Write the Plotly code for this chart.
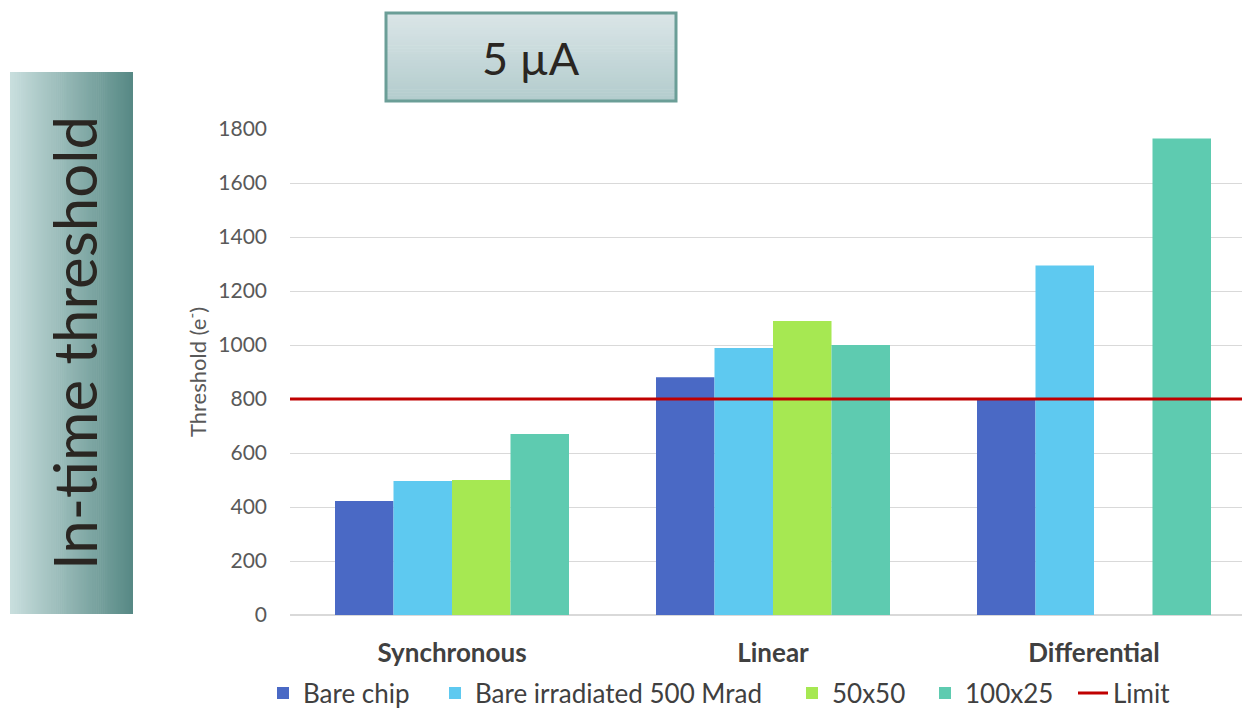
import plotly.graph_objects as go

categories = ["Synchronous", "Linear", "Differential"]
bare_chip = [422, 881, 797]
bare_irradiated = [496, 989, 1294]
pitch_50x50 = [500, 1089, None]
pitch_100x25 = [670, 1000, 1765]
limit = 800

series_names = ["Bare chip", "Bare irradiated 500 Mrad", "50x50", "100x25"]
series_colors = ["#4a69c5", "#5ec9f0", "#a6e852", "#5ecbb0"]
series_values = [bare_chip, bare_irradiated, pitch_50x50, pitch_100x25]
legend_ids = ["legend", "legend2", "legend3", "legend4", "legend5"]

fig = go.Figure()
for name, color, vals, lg in zip(series_names, series_colors, series_values, legend_ids):
    fig.add_trace(go.Bar(x=categories, y=vals, name=name, legend=lg, showlegend=True,
                         marker=dict(color=color, line=dict(width=0))))

fig.add_trace(go.Scatter(x=[0, 1], y=[limit, limit], mode="lines", name="Limit", legend=legend_ids[4],
                         showlegend=True, line=dict(color="#c00000", width=3), xaxis="x2"))

# page has an 8px body margin; figure coords = page coords - 8
OFF = 8
W, H = 1250 - OFF, 711 - OFF
ml, mr, mt = 290 - OFF, 0, 129 - OFF
mb = H - (615 - OFF)
pw, ph = W - ml - mr, H - mt - mb

def px_x(x):  # page px -> paper
    return (x - OFF - ml) / pw

def px_y(y):
    return (H - mb - (y - OFF)) / ph

def cx(x):  # page px -> container fraction
    return (x - OFF) / W

def cy(y):
    return 1 - (y - OFF) / H

def lerp(c1, c2, t):
    a = [int(c1[i:i+2], 16) for i in (1, 3, 5)]
    b = [int(c2[i:i+2], 16) for i in (1, 3, 5)]
    return "#%02x%02x%02x" % tuple(round(a[k] + (b[k] - a[k]) * t) for k in range(3))

shapes = []
n = 60
x0, x1, y0, y1 = 10, 133, 72, 614
for i in range(n):
    xa = x0 + (x1 - x0) * i / n
    xb = x0 + (x1 - x0) * (i + 1) / n + 0.6
    shapes.append(dict(type="rect", xref="paper", yref="paper", x0=px_x(xa), x1=px_x(min(xb, x1)),
                       y0=px_y(y1), y1=px_y(y0), fillcolor=lerp("#c8dedd", "#578985", i / (n - 1)),
                       line=dict(width=0), layer="below"))
bx0, bx1, by0, by1 = 386, 676, 13, 101
m = 30
for i in range(m):
    ya = by0 + (by1 - by0) * i / m
    yb = by0 + (by1 - by0) * (i + 1) / m + 0.6
    shapes.append(dict(type="rect", xref="paper", yref="paper", x0=px_x(bx0), x1=px_x(bx1),
                       y0=px_y(min(yb, by1)), y1=px_y(ya), fillcolor=lerp("#dae5e7", "#b3cccd", i / (m - 1)),
                       line=dict(width=0), layer="below"))
shapes.append(dict(type="rect", xref="paper", yref="paper", x0=px_x(bx0), x1=px_x(bx1),
                   y0=px_y(by1), y1=px_y(by0), fillcolor="rgba(0,0,0,0)",
                   line=dict(width=3, color="#6b9e97")))

annotations = [
    dict(text="5 µA", xref="paper", yref="paper", x=px_x(531), y=px_y(58), showarrow=False,
         font=dict(size=45, color="#2a2622", family="Lato, 'Open Sans', sans-serif"),
         xanchor="center", yanchor="middle"),
    dict(text="In-time threshold", xref="paper", yref="paper", x=px_x(74), y=px_y(343), showarrow=False,
         textangle=-90, font=dict(size=60, color="#2a2622", family="Lato, 'Open Sans', sans-serif"),
         xanchor="center", yanchor="middle"),
]

# category axis range so that category centres fall at page x 452, 773, 1094
cat_px = 321.0
x_lo = -(452 - 290) / cat_px
x_hi = x_lo + pw / cat_px

# legend entries: page x where each entry's text starts
legend_text_x = [303, 475, 832, 965, 1113]
legend_y = 693
legends = {}
for lg, tx in zip(legend_ids, legend_text_x):
    legends[lg] = dict(orientation="h", xref="container", yref="container",
                       x=cx(tx - 40), xanchor="left", y=cy(legend_y), yanchor="middle",
                       font=dict(size=26, color="#404040"), bgcolor="rgba(0,0,0,0)")

fig.update_layout(
    width=W, height=H,
    margin=dict(l=ml, r=mr, t=mt, b=mb),
    paper_bgcolor="white", plot_bgcolor="white",
    showlegend=True,
    barmode="group", bargap=0.271, bargroupgap=0,
    font=dict(family="Lato, 'Open Sans', sans-serif", color="#595959"),
    xaxis=dict(tickfont=dict(size=26, color="#404040", family="Lato, sans-serif", weight="bold"),
               showgrid=False, showline=False, ticks="", ticklabelstandoff=20,
               range=[x_lo, x_hi]),
    xaxis2=dict(overlaying="x", range=[0, 1], visible=False, showgrid=False),
    yaxis=dict(range=[0, 1800], dtick=200, showgrid=True, gridcolor="#d9d9d9", gridwidth=1,
               zeroline=True, zerolinecolor="#d9d9d9", tickfont=dict(size=21, color="#595959"),
               ticklabelstandoff=22,
               title=dict(text="Threshold (e<sup>-</sup>)", font=dict(size=22, color="#595959"), standoff=5)),
    shapes=shapes, annotations=annotations,
    **legends,
)

fig.write_html("out.html")
